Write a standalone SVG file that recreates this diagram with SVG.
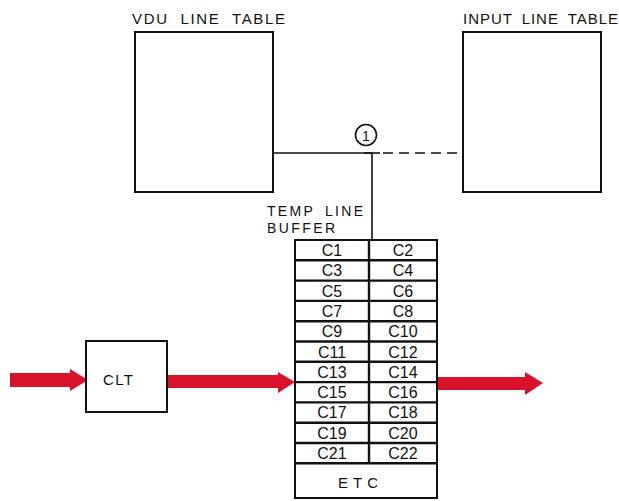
<svg xmlns="http://www.w3.org/2000/svg" width="619" height="501" viewBox="0 0 619 501">
<style>
.box{fill:#fff;stroke:#111;stroke-width:2}
.ln{fill:none;stroke:#111;stroke-width:1.6}
.sep{stroke:#111;stroke-width:2.4}
.t{font-family:"Liberation Sans",Arial,sans-serif;font-size:15px;fill:#111}
.c{font-family:"Liberation Sans",Arial,sans-serif;font-size:16px;fill:#111;text-anchor:middle}
.arr{fill:#d9122b}
</style>
<rect width="619" height="501" fill="#fff"/>
<g id="connectors">
<line class="ln" x1="273" y1="153" x2="372" y2="153"/>
<line class="ln" x1="364" y1="153" x2="380" y2="153"/>
<line class="ln" x1="372" y1="153" x2="372" y2="240"/>
<line class="ln" x1="383" y1="153" x2="463" y2="153" stroke-dasharray="10,6"/>
<circle class="ln" cx="366" cy="135" r="10.5"/>
<text class="c" x="366" y="140.5" style="font-size:14px">1</text>
<polygon class="arr" points="10,373 70,373 70,369 88,380 70,391 70,387 10,387"/>
<polygon class="arr" points="168,375 278,375 278,372 295,382 278,393 278,388 168,388"/>
<polygon class="arr" points="437,377 525,377 525,372 543,383 525,395 525,390 437,390"/>
</g>
<g id="vdu">
<rect class="box" x="135" y="32" width="138" height="160"/>
<text class="t" x="132" y="24" textLength="153" lengthAdjust="spacing" word-spacing="6">VDU LINE TABLE</text>
</g>
<g id="input">
<rect class="box" x="463" y="32" width="138" height="160"/>
<text class="t" x="463" y="24" textLength="155" lengthAdjust="spacing" word-spacing="4">INPUT LINE TABLE</text>
</g>
<g id="clt">
<rect class="box" x="86" y="341" width="81" height="71"/>
<text class="t" x="103" y="385" textLength="30" lengthAdjust="spacing">CLT</text>
</g>
<g id="buffer">
<text class="t" x="267" y="216" textLength="96" lengthAdjust="spacing" word-spacing="4" style="font-size:14px">TEMP LINE</text>
<text class="t" x="267" y="233" textLength="68" lengthAdjust="spacing" style="font-size:14px">BUFFER</text>
<rect class="box" x="295" y="240" width="142" height="258"/>
<line class="sep" x1="369" y1="240" x2="369" y2="463"/>
<g>
<line class="sep" x1="295" y1="260.3" x2="437" y2="260.3"/>
<line class="sep" x1="295" y1="280.6" x2="437" y2="280.6"/>
<line class="sep" x1="295" y1="300.9" x2="437" y2="300.9"/>
<line class="sep" x1="295" y1="321.2" x2="437" y2="321.2"/>
<line class="sep" x1="295" y1="341.5" x2="437" y2="341.5"/>
<line class="sep" x1="295" y1="361.8" x2="437" y2="361.8"/>
<line class="sep" x1="295" y1="382.1" x2="437" y2="382.1"/>
<line class="sep" x1="295" y1="402.4" x2="437" y2="402.4"/>
<line class="sep" x1="295" y1="422.7" x2="437" y2="422.7"/>
<line class="sep" x1="295" y1="443" x2="437" y2="443"/>
<line class="sep" x1="295" y1="463.3" x2="437" y2="463.3"/>
</g>
<text class="c" x="332" y="256">C1</text><text class="c" x="403" y="256">C2</text>
<text class="c" x="332" y="276.3">C3</text><text class="c" x="403" y="276.3">C4</text>
<text class="c" x="332" y="296.6">C5</text><text class="c" x="403" y="296.6">C6</text>
<text class="c" x="332" y="316.9">C7</text><text class="c" x="403" y="316.9">C8</text>
<text class="c" x="332" y="337.2">C9</text><text class="c" x="403" y="337.2">C10</text>
<text class="c" x="332" y="357.5">C11</text><text class="c" x="403" y="357.5">C12</text>
<text class="c" x="332" y="377.8">C13</text><text class="c" x="403" y="377.8">C14</text>
<text class="c" x="332" y="398.1">C15</text><text class="c" x="403" y="398.1">C16</text>
<text class="c" x="332" y="418.4">C17</text><text class="c" x="403" y="418.4">C18</text>
<text class="c" x="332" y="438.7">C19</text><text class="c" x="403" y="438.7">C20</text>
<text class="c" x="332" y="459">C21</text><text class="c" x="403" y="459">C22</text>
<text class="t" x="338" y="488" textLength="40" lengthAdjust="spacing">ETC</text>
</g>
</svg>
